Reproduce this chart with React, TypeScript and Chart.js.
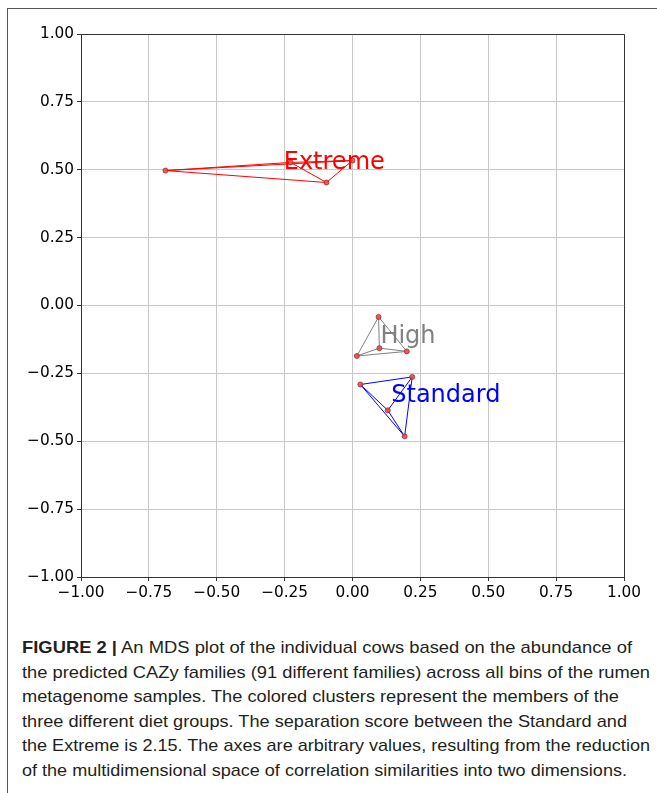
import React, { useEffect, useLayoutEffect, useRef } from "react";
import { Chart, registerables } from "chart.js";

Chart.register(...registerables);

// ---- data ----
const groupNames = ["Extreme", "High", "Standard"];
const groupColors = ["#ff0000", "#808080", "#0000ff"];
const extremeX = [-0.689, -0.228, 0.0, -0.096];
const extremeY = [0.497, 0.527, 0.534, 0.453];
const highX = [0.096, 0.016, 0.099, 0.2];
const highY = [-0.042, -0.186, -0.157, -0.169];
const standardX = [0.029, 0.22, 0.13, 0.192];
const standardY = [-0.291, -0.263, -0.386, -0.482];
const axisMin = -1;
const axisMax = 1;
const axisStep = 0.25;

const captionBold = "FIGURE 2 |";
const captionLines = [
  " An MDS plot of the individual cows based on the abundance of",
  "the predicted CAZy families (91 different families) across all bins of the rumen",
  "metagenome samples. The colored clusters represent the members of the",
  "three different diet groups. The separation score between the Standard and",
  "the Extreme is 2.15. The axes are arbitrary values, resulting from the reduction",
  "of the multidimensional space of correlation similarities into two dimensions.",
];
const captionWidths = [610, 628, 597, 605, 628, 605];

const groupXs = [extremeX, highX, standardX];
const groupYs = [extremeY, highY, standardY];

function pts(xs: number[], ys: number[]) {
  return xs.map((x, i) => ({ x, y: ys[i] }));
}

function edges(xs: number[], ys: number[]) {
  const out: any[] = [];
  for (let i = 0; i < xs.length; i++) {
    for (let j = i + 1; j < xs.length; j++) {
      out.push({ x: xs[i], y: ys[i] });
      out.push({ x: xs[j], y: ys[j] });
      out.push({ x: xs[j], y: null });
    }
  }
  return out;
}

const fmt = (v: number) => {
  const s = Math.abs(v).toFixed(2);
  return v < -1e-9 ? "\u2212" + s : s;
};

const overlay = {
  id: "overlay",
  afterDatasetsDraw(chart: any) {
    const { ctx, chartArea, scales } = chart;
    ctx.save();
    ctx.strokeStyle = "#333";
    ctx.lineWidth = 1;
    ctx.beginPath();
    ctx.moveTo(chartArea.left, chartArea.top + 0.5);
    ctx.lineTo(chartArea.right + 0.5, chartArea.top + 0.5);
    ctx.lineTo(chartArea.right + 0.5, chartArea.bottom);
    ctx.stroke();
    ctx.font = "24px 'DejaVu Sans'";
    ctx.textAlign = "left";
    ctx.textBaseline = "alphabetic";
    groupNames.forEach((name, g) => {
      const xs = groupXs[g];
      const ys = groupYs[g];
      const cx = xs.reduce((a, b) => a + b, 0) / xs.length;
      const cy = ys.reduce((a, b) => a + b, 0) / ys.length;
      ctx.fillStyle = groupColors[g];
      ctx.fillText(name, scales.x.getPixelForValue(cx), scales.y.getPixelForValue(cy));
    });
    ctx.restore();
  },
};

function Caption() {
  const refs = useRef<(HTMLSpanElement | null)[]>([]);
  useLayoutEffect(() => {
    const fit = () => {
      refs.current.forEach((el, i) => {
        if (!el) return;
        el.style.transform = "none";
        const w = el.getBoundingClientRect().width;
        if (w > 0) el.style.transform = `scaleX(${captionWidths[i] / w})`;
      });
    };
    fit();
    if ((document as any).fonts && (document as any).fonts.ready) {
      (document as any).fonts.ready.then(fit);
    }
  }, []);
  return (
    <div
      style={{
        position: "absolute",
        left: 14,
        top: 627,
        fontFamily: "'Liberation Sans', Arial, sans-serif",
        fontSize: 17,
        lineHeight: "24.6px",
        color: "#231f20",
        whiteSpace: "nowrap",
      }}
    >
      {captionLines.map((line, i) => (
        <div key={i} style={{ height: 24.6 }}>
          <span
            ref={(el) => {
              refs.current[i] = el;
            }}
            style={{ display: "inline-block", transformOrigin: "0 0" }}
          >
            {i === 0 ? <b>{captionBold}</b> : null}
            {line}
          </span>
        </div>
      ))}
    </div>
  );
}

export default function App() {
  const canvasRef = useRef<HTMLCanvasElement | null>(null);

  useEffect(() => {
    if (!canvasRef.current) return;
    const markerDatasets = groupNames.map((name, g) => ({
      type: "scatter" as const,
      label: name + " points",
      data: pts(groupXs[g], groupYs[g]),
      pointRadius: 2.5,
      pointBackgroundColor: "rgba(225,80,80,0.9)",
      pointBorderColor: "#a02828",
      pointBorderWidth: 0.8,
      showLine: false,
    }));
    const lineDatasets = groupNames.map((name, g) => ({
      type: "scatter" as const,
      label: name,
      data: edges(groupXs[g], groupYs[g]),
      showLine: true,
      spanGaps: false,
      borderColor: groupColors[g],
      borderWidth: 1,
      pointRadius: 0,
      pointHoverRadius: 0,
    }));
    const chart = new Chart(canvasRef.current, {
      type: "scatter",
      data: { datasets: [...markerDatasets, ...lineDatasets] as any },
      options: {
        responsive: false,
        animation: false,
        events: [],
        layout: { padding: { top: 25, right: 33, bottom: 12, left: 0 } },
        plugins: { legend: { display: false }, tooltip: { enabled: false } },
        scales: {
          x: {
            type: "linear",
            min: axisMin,
            max: axisMax,
            afterFit: (s: any) => {
              s.height = 30;
            },
            ticks: {
              stepSize: axisStep,
              callback: (v: any) => fmt(Number(v)),
              color: "#000",
              font: { family: "'DejaVu Sans'", size: 15.3 },
              padding: 3,
              maxRotation: 0,
              autoSkip: false,
            },
            grid: {
              color: "#c8c8c8",
              lineWidth: 1,
              tickLength: 4,
              tickColor: "#333",
            },
            border: { color: "#333", width: 1 },
          },
          y: {
            type: "linear",
            min: axisMin,
            max: axisMax,
            afterFit: (s: any) => {
              s.width = 73;
            },
            ticks: {
              stepSize: axisStep,
              callback: (v: any) => fmt(Number(v)),
              color: "#000",
              font: { family: "'DejaVu Sans'", size: 15.3 },
              padding: 3,
              autoSkip: false,
            },
            grid: {
              color: "#c8c8c8",
              lineWidth: 1,
              tickLength: 4,
              tickColor: "#333",
            },
            border: { color: "#333", width: 1 },
          },
        },
      },
      plugins: [overlay],
    });
    return () => chart.destroy();
  }, []);

  return (
    <div
      style={{
        position: "fixed",
        left: 7,
        top: 8,
        width: 650,
        height: 785,
        borderTop: "1px solid #555",
        borderLeft: "1px solid #555",
        background: "#fff",
      }}
    >
      <canvas
        ref={canvasRef}
        width={649}
        height={610}
        style={{ position: "absolute", left: 0, top: 0, width: 649, height: 610 }}
      />
      <Caption />
    </div>
  );
}
